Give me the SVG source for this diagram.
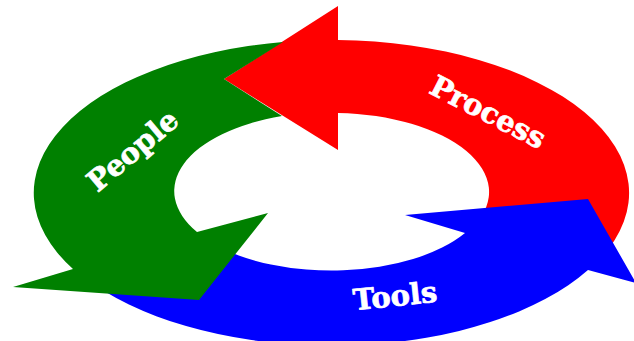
<svg xmlns="http://www.w3.org/2000/svg" width="634" height="341" viewBox="0 0 634 341">
<style>
.lbl{font-family:"DejaVu Serif","Liberation Serif",serif;font-weight:bold;font-size:29px;fill:#fff;stroke:#fff;stroke-width:0.7px;stroke-linejoin:round;text-anchor:middle}
</style>
<rect width="634" height="341" fill="#fff"/>
<g id="process">
<path fill="#ff0000" d="M338,40 A297,153 0 0 1 601.2,257.7 L474.3,225.4 A157,79 0 0 0 338,113 L338,150 L224,79 L338,6 Z"/>
<text class="lbl" transform="translate(488,112) rotate(27)" y="10">Process</text>
</g>
<g id="tools">
<path fill="#0000ff" d="M104.5,291.3 A297,153 0 0 0 588,270 L636,283 L588,199 L405,215 L465,233 A157,79 0 0 1 211.7,242.8 Z"/>
<text class="lbl" transform="translate(395,296) rotate(-6)" y="10">Tools</text>
</g>
<g id="people">
<path fill="#008000" d="M283,42 A297,153 0 0 0 73,269 L13,287 L199,300 L268,213 L197,232 A157,79 0 0 1 282,116 L224,79 Z"/>
<text class="lbl" transform="translate(134,152) rotate(-40)" y="8">People</text>
</g>
</svg>
